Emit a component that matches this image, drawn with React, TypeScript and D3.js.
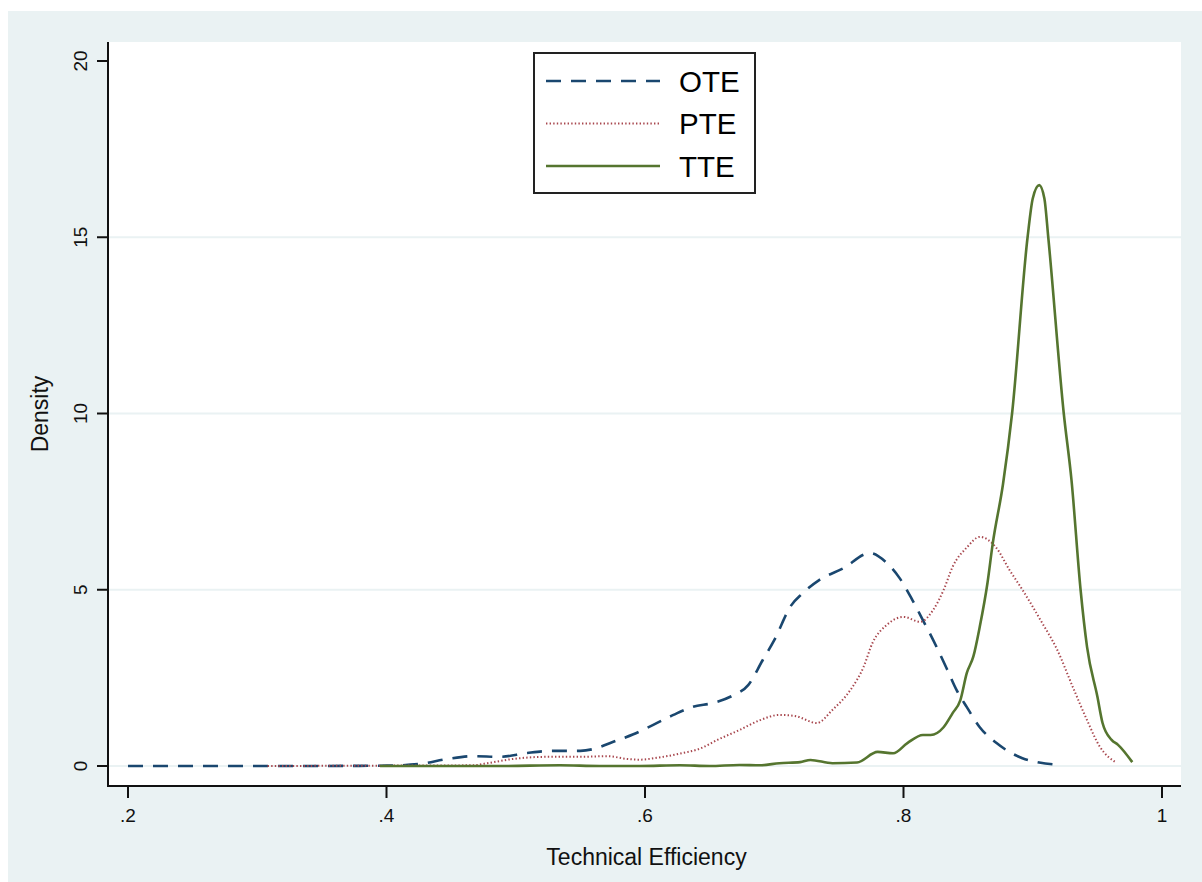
import React from 'react';
import * as d3 from 'd3';

// kernel density estimates: [efficiency, density]
const ote: [number, number][] = [
  [0.2, 0], [0.26, 0], [0.33, 0], [0.4, 0.01], [0.426, 0.06], [0.447, 0.2],
  [0.467, 0.28], [0.488, 0.26], [0.509, 0.37], [0.529, 0.43], [0.55, 0.43],
  [0.562, 0.5], [0.575, 0.68], [0.591, 0.9], [0.606, 1.16], [0.622, 1.45],
  [0.637, 1.68], [0.653, 1.79], [0.668, 2.0], [0.68, 2.3], [0.691, 3.0],
  [0.7, 3.57], [0.713, 4.55], [0.722, 4.9], [0.735, 5.28], [0.753, 5.6],
  [0.774, 6.04], [0.787, 5.76], [0.797, 5.33], [0.807, 4.7], [0.815, 4.14],
  [0.823, 3.57], [0.834, 2.72], [0.841, 2.16], [0.849, 1.67], [0.859, 1.1],
  [0.872, 0.65], [0.892, 0.22], [0.905, 0.1], [0.921, 0.03],
];

const pte: [number, number][] = [
  [0.308, 0], [0.4, 0.01], [0.467, 0.02], [0.478, 0.08], [0.498, 0.2],
  [0.524, 0.26], [0.55, 0.26], [0.571, 0.28], [0.586, 0.2], [0.596, 0.18],
  [0.612, 0.25], [0.627, 0.35], [0.643, 0.5], [0.656, 0.74], [0.673, 1.02],
  [0.689, 1.3], [0.704, 1.45], [0.716, 1.42], [0.733, 1.22], [0.745, 1.59],
  [0.759, 2.16], [0.769, 2.8], [0.776, 3.49], [0.787, 4.0], [0.8, 4.23],
  [0.813, 4.09], [0.823, 4.43], [0.831, 4.99], [0.838, 5.65], [0.849, 6.2],
  [0.859, 6.5], [0.872, 6.18], [0.882, 5.56], [0.892, 5.0], [0.906, 4.14],
  [0.919, 3.29], [0.931, 2.24], [0.942, 1.3], [0.952, 0.54], [0.964, 0.11],
];

const tte: [number, number][] = [
  [0.395, 0], [0.488, 0], [0.534, 0.02], [0.565, 0], [0.596, 0],
  [0.627, 0.02], [0.65, 0], [0.673, 0.03], [0.689, 0.02], [0.704, 0.08],
  [0.72, 0.11], [0.728, 0.17], [0.745, 0.08], [0.764, 0.1], [0.78, 0.4],
  [0.792, 0.36], [0.803, 0.65], [0.815, 0.88], [0.821, 0.88], [0.831, 1.1],
  [0.838, 1.5], [0.844, 1.87], [0.849, 2.64], [0.854, 3.1], [0.859, 3.95],
  [0.865, 5.2], [0.869, 6.3], [0.877, 8.0], [0.884, 10.0], [0.896, 15.0],
  [0.9, 16.1], [0.905, 16.48], [0.909, 16.1], [0.912, 15.0], [0.924, 10.0],
  [0.93, 8.1], [0.937, 5.0], [0.942, 3.38], [0.95, 1.97], [0.954, 1.22],
  [0.961, 0.74], [0.966, 0.6], [0.977, 0.11],
];

const xTicks = [0.2, 0.4, 0.6, 0.8, 1];
const xTickLabels = ['.2', '.4', '.6', '.8', '1'];
const yTicks = [0, 5, 10, 15, 20];
const gridTicks = [0, 5, 10, 15];

const series = [
  { name: 'OTE', data: ote, color: '#1a476f', width: 2.6, dash: '15 10' },
  { name: 'PTE', data: pte, color: '#a8474e', width: 2, dash: '1.4 2.2' },
  { name: 'TTE', data: tte, color: '#55752f', width: 2.6, dash: null },
];

const FONT = '"Liberation Sans", Arial, Helvetica, sans-serif';

export default function App() {
  const W = 1202;
  const H = 882;
  const plot = { left: 108, top: 42, right: 1181, bottom: 786 };

  const x = d3.scaleLinear().domain([0.2, 1]).range([128, 1162]);
  const y = d3.scaleLinear().domain([0, 20]).range([766, 61]);

  const line = d3
    .line<[number, number]>()
    .x(d => x(d[0]))
    .y(d => y(d[1]))
    .curve(d3.curveMonotoneX);

  const legend = { x: 534, y: 53, w: 221, h: 140 };

  return (
    <svg
      width={W}
      height={H}
      style={{ position: 'absolute', left: 0, top: 0, background: 'white' }}
      fontFamily={FONT}
    >
      {/* graph region */}
      <rect x={8} y={11} width={W - 8} height={H - 11} fill="#eaf2f3" />
      {/* plot region */}
      <rect
        x={plot.left}
        y={plot.top}
        width={plot.right - plot.left}
        height={plot.bottom - plot.top}
        fill="white"
      />

      {gridTicks.map(t => (
        <line
          key={'g' + t}
          x1={plot.left}
          x2={plot.right}
          y1={y(t)}
          y2={y(t)}
          stroke="#eaf2f3"
          strokeWidth={2}
        />
      ))}

      {series.map(s => (
        <path
          key={s.name}
          d={line(s.data) || ''}
          fill="none"
          stroke={s.color}
          strokeWidth={s.width}
          strokeDasharray={s.dash || undefined}
          strokeLinejoin="round"
        />
      ))}

      {/* axes */}
      <line x1={plot.left} x2={plot.left} y1={plot.top} y2={plot.bottom + 1} stroke="#111" strokeWidth={2} />
      <line x1={plot.left - 1} x2={plot.right} y1={plot.bottom} y2={plot.bottom} stroke="#111" strokeWidth={2} />

      {yTicks.map(t => (
        <g key={'y' + t}>
          <line x1={97} x2={plot.left} y1={y(t)} y2={y(t)} stroke="#111" strokeWidth={2} />
          <text
            transform={`translate(80,${y(t)}) rotate(-90)`}
            textAnchor="middle"
            dominantBaseline="central"
            fontSize={19}
            fill="#111"
          >
            {t}
          </text>
        </g>
      ))}

      {xTicks.map((t, i) => (
        <g key={'x' + t}>
          <line x1={x(t)} x2={x(t)} y1={plot.bottom} y2={798} stroke="#111" strokeWidth={2} />
          <text x={x(t)} y={822} textAnchor="middle" fontSize={19} fill="#111">
            {xTickLabels[i]}
          </text>
        </g>
      ))}

      <text
        transform={`translate(48,${(plot.top + plot.bottom) / 2}) rotate(-90)`}
        textAnchor="middle"
        fontSize={23}
        fill="#111"
      >
        Density
      </text>
      <text x={(plot.left + plot.right) / 2 + 2} y={865} textAnchor="middle" fontSize={23} fill="#111">
        Technical Efficiency
      </text>

      {/* legend */}
      <rect
        x={legend.x}
        y={legend.y}
        width={legend.w}
        height={legend.h}
        fill="white"
        stroke="#222"
        strokeWidth={2}
      />
      {series.map((s, i) => {
        const ly = 81 + i * 42.5;
        return (
          <g key={'l' + s.name}>
            <line
              x1={546}
              x2={660}
              y1={ly}
              y2={ly}
              stroke={s.color}
              strokeWidth={s.width}
              strokeDasharray={s.dash || undefined}
            />
            <text x={679} y={ly + 10.5} fontSize={29.5} fill="#000">
              {s.name}
            </text>
          </g>
        );
      })}
    </svg>
  );
}
